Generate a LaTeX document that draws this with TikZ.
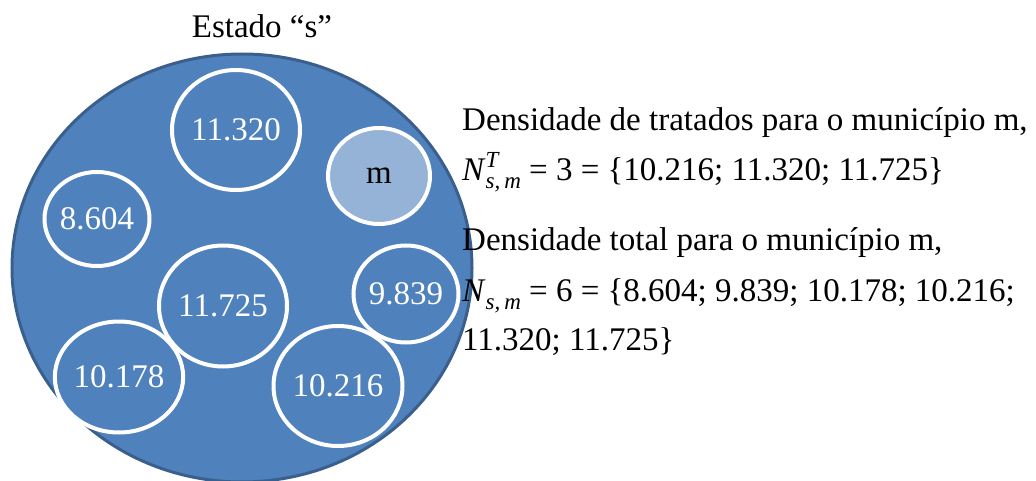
\documentclass[tikz,border=0pt]{standalone}
\usepackage{fontspec}
\setmainfont{Liberation Serif}
\usetikzlibrary{shapes.geometric}
\definecolor{blfill}{HTML}{4F81BD}
\definecolor{blline}{HTML}{3A5F8C}
\definecolor{mfill}{HTML}{95B3D7}
\newcommand{\smallit}[1]{{\fontsize{23}{23}\selectfont\itshape #1}}
\newcommand{\supsub}[2]{\rlap{\raisebox{13pt}{\smallit{#1}}}\raisebox{-8pt}{\smallit{#2}}}
\tikzset{
  big/.style={ellipse, draw=blline, line width=3pt, fill=blfill, inner sep=0pt, outer sep=0pt},
  muni/.style={ellipse, draw=white, line width=4pt, fill=blfill, text=white, inner sep=0pt, outer sep=0pt},
  txt/.style={anchor=base west, inner sep=0pt, text=black},
}
\begin{document}
\begin{tikzpicture}[x=1pt,y=-1pt,font=\fontsize{33}{40}\selectfont]
\useasboundingbox (0,0) rectangle (1036,481);
\node[big, minimum width=460pt, minimum height=428pt] (estado) at (242,268) {};
\node[anchor=base, inner sep=0pt] (titulo) at (262,38) {Estado “s”};
\node[muni, minimum width=128pt, minimum height=120pt] (a) at (236,130) {11.320};
\node[muni, fill=mfill, text=black, minimum width=102pt, minimum height=96pt] (m) at (379,176) {m};
\node[muni, minimum width=100pt, minimum height=94pt] (b) at (97,219) {8.604};
\node[muni, minimum width=128pt, minimum height=121pt] (c) at (223,306) {11.725};
\node[muni, minimum width=103pt, minimum height=97pt] (d) at (406,294) {9.839};
\node[muni, minimum width=118pt, minimum height=111pt] (e) at (119,377) {10.178};
\node[muni, minimum width=129pt, minimum height=120pt] (f) at (338,386) {10.216};
\node[txt] (l1) at (462,131) {Densidade de tratados para o município m,};
\node[txt] (l2) at (462,181) {\textit{N}\supsub{T}{s,\,m} = 3 = \{10.216; 11.320; 11.725\}};
\node[txt] (l3) at (462,251) {Densidade total para o município m,};
\node[txt] (l4) at (462,301) {\textit{N}\raisebox{-8pt}{\smallit{s,\,m}} = 6 = \{8.604; 9.839; 10.178; 10.216;};
\node[txt] (l5) at (462,350) {11.320; 11.725\}};
\end{tikzpicture}
\end{document}
